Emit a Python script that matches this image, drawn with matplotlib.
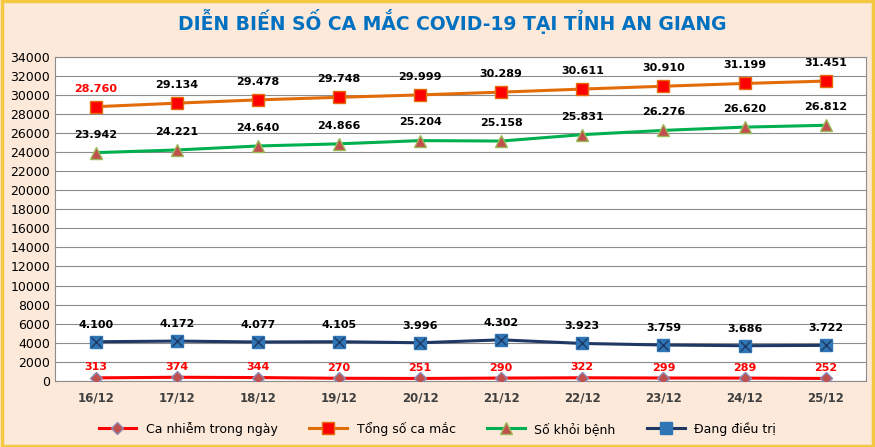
import matplotlib.pyplot as plt
import numpy as np

dates = ["16/12", "17/12", "18/12", "19/12", "20/12", "21/12", "22/12", "23/12", "24/12", "25/12"]
daily_cases = [313, 374, 344, 270, 251, 290, 322, 299, 289, 252]
total_cases = [28760, 29134, 29478, 29748, 29999, 30289, 30611, 30910, 31199, 31451]
recovered = [23942, 24221, 24640, 24866, 25204, 25158, 25831, 26276, 26620, 26812]
treating = [4100, 4172, 4077, 4105, 3996, 4302, 3923, 3759, 3686, 3722]


def vn(v):
    return f"{v:,}".replace(",", ".")


fig = plt.figure(figsize=(8.75, 4.47), dpi=100)
fig.patch.set_facecolor("#fce9da")
fig.patches.append(plt.Rectangle((0.002, 0.003), 0.996, 0.994, transform=fig.transFigure,
                                 fill=False, edgecolor="#f5c842", linewidth=2.5))
ax = fig.add_axes([0.063, 0.148, 0.927, 0.725])
ax.set_facecolor("white")
x = np.arange(len(dates))

ax.plot(x, daily_cases, color="#ff0000", lw=2.2, marker="D", ms=6,
        mfc="#c0504d", mec="#8e8ab5", label="Ca nhiễm trong ngày", zorder=3)
ax.plot(x, total_cases, color="#e36c0a", lw=2.2, marker="s", ms=8,
        mfc="#ff0000", mec="#e36c0a", label="Tổng số ca mắc", zorder=3)
ax.plot(x, recovered, color="#00b050", lw=2.2, marker="^", ms=8,
        mfc="#c0504d", mec="#9bbb59", label="Số khỏi bệnh", zorder=3)
ax.plot(x, treating, color="#1f3864", lw=2.2, marker="s", ms=9,
        mfc="#2e75b6", mec="#2e75b6", label="Đang điều trị", zorder=3)
ax.plot(x, treating, ls="none", marker="x", ms=7, mec="#1f3864", mew=1, zorder=4)

for i in x:
    ax.text(i, daily_cases[i] + 1100, vn(daily_cases[i]), color="#ff0000",
            ha="center", va="center", fontsize=8, fontweight="bold")
    ax.text(i, total_cases[i] + 1900, vn(total_cases[i]), color="#ff0000" if i == 0 else "black",
            ha="center", va="center", fontsize=8, fontweight="bold")
    ax.text(i, recovered[i] + 1900, vn(recovered[i]), ha="center", va="center",
            fontsize=8, fontweight="bold")
    ax.text(i, treating[i] + 1800, vn(treating[i]), ha="center", va="center",
            fontsize=8, fontweight="bold")

ax.set_xlim(-0.5, len(dates) - 0.5)
ax.set_ylim(0, 34000)
ax.set_yticks(range(0, 34001, 2000))
ax.set_xticks(x)
ax.set_xticklabels(dates, fontweight="bold", fontsize=8.5, color="#404040")
ax.tick_params(axis="y", labelsize=9, length=0)
ax.tick_params(axis="x", length=0, pad=8)
ax.grid(axis="y", color="#8c8c8c", lw=0.8)
ax.set_axisbelow(True)
for s in ax.spines.values():
    s.set_color("#8c8c8c")

fig.text(0.517, 0.952, "DIỄN BIẾN SỐ CA MẮC COVID-19 TẠI TỈNH AN GIANG", ha="center", va="center",
         fontsize=13.5, fontweight="bold", color="#0070c0")
fig.legend(loc="lower center", bbox_to_anchor=(0.5, 0.0), ncol=4, frameon=False,
           fontsize=9, handlelength=3, columnspacing=2.5)

fig.savefig("out.png", dpi=100, facecolor=fig.get_facecolor())
